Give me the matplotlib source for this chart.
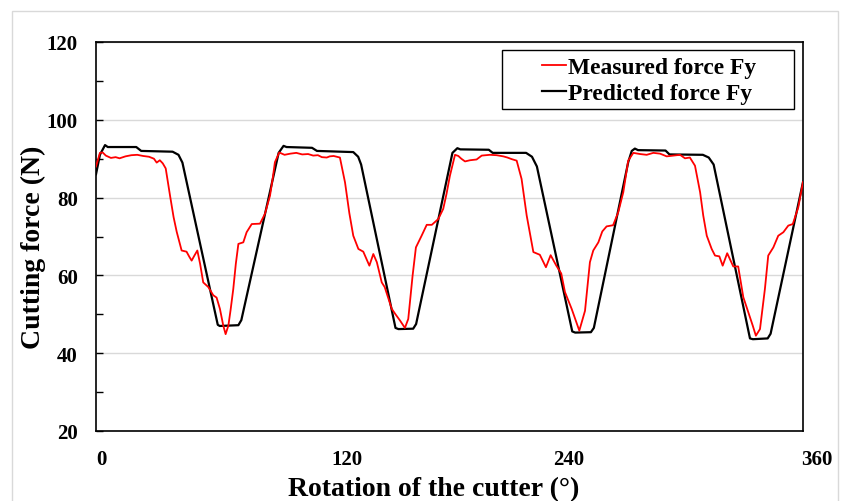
import matplotlib
matplotlib.use("Agg")
import matplotlib.pyplot as plt
from matplotlib.patches import Rectangle
from matplotlib.transforms import ScaledTranslation

plt.rcParams['font.family'] = ['Liberation Serif', 'DejaVu Serif']
plt.rcParams['font.weight'] = 'bold'

# measured force Fy
meas_deg = [0, 2, 3.4, 5, 7.6, 10, 12, 15, 18, 21, 24, 27, 29.5, 30.9, 32.5, 34, 35.5,
            37.7, 39.5, 41.1, 42.5, 43.6, 46.1, 47.5, 48.7, 50, 51.6, 53, 54.6, 57.2,
            59.7, 61.4, 63.1, 64.8, 66, 67.4, 68.5, 69.9, 71.2, 72.5, 75, 76.7, 79.3,
            83.5, 86, 88.6, 90, 91.1, 93.3, 96, 99, 102, 105, 108, 110.6, 113, 115,
            117.5, 119, 121, 124.2, 126.8, 129, 131, 133.6, 136.1, 139.2, 141.2, 143,
            145.5, 147, 150.6, 152.5, 154.8, 157.3, 159, 161.2, 162.9, 165.8, 168.4,
            171, 174.3, 176.8, 178.5, 180.2, 182.8, 184.5, 186, 187.9, 190.4, 193.8,
            196.4, 200.6, 204, 207.4, 209.5, 211.6, 214.2, 216.7, 219.3, 222.7, 226,
            229.1, 231.5, 234.4, 236.9, 238.8, 242.2, 244, 246.1, 249, 251.5, 253.2,
            255.8, 257.8, 260, 263.3, 265.9, 268.5, 271, 273.6, 277, 280.4, 283.8,
            287.2, 290.6, 294, 297.4, 299.9, 302.4, 305, 307.6, 309.2, 311, 313.5,
            315.2, 317.4, 319.1, 321.4, 324.5, 327, 329.6, 333, 334.4, 336, 338.1,
            340.6, 342.3, 344.9, 347.4, 350, 352.5, 354.8, 357.6, 360]
meas_fy = [88, 91.5, 91.6, 90.8, 90.2, 90.4, 90.1, 90.6, 90.9, 91.0, 90.7, 90.5, 90.0,
           89.0, 89.6, 88.8, 87.5, 80.5, 75, 71.2, 68.5, 66.4, 66.1, 64.8, 63.8, 65,
           66.4, 63, 58.2, 57, 54.9, 54.3, 51.4, 47.1, 44.9, 47.1, 51, 56.5, 63, 68.1,
           68.5, 71.1, 73.2, 73.3, 75.8, 80.5, 85, 89.1, 91.6, 91, 91.3, 91.5, 91.1,
           91.2, 90.8, 90.9, 90.4, 90.3, 90.6, 90.7, 90.3, 83.9, 76, 70.2, 66.8, 66.1,
           62.5, 65.5, 63.4, 58.2, 57, 51.4, 50, 48.4, 46.5, 48.8, 59.9, 67.2, 70.2,
           73, 73, 74.5, 77.1, 81, 85.6, 91, 90.7, 90, 89.3, 89.6, 89.8, 90.8, 91,
           90.9, 90.6, 90.3, 89.9, 89.5, 84.8, 75.4, 66, 65.3, 62.1, 65.2, 62.5, 60.5,
           55.7, 51.4, 48.8, 45.8, 50.9, 63.4, 66.4, 68.5, 71.3, 72.6, 72.9, 76.2,
           81.4, 89.5, 91.5, 91.2, 91, 91.5, 91.3, 90.6, 90.8, 91, 90.1, 90.3, 88.2,
           81.4, 75.4, 70.2, 66.8, 65.1, 64.9, 62.5, 65.7, 62.3, 62.3, 54.4, 49.2,
           47.1, 44.5, 46.2, 56.5, 65.1, 67.2, 70.2, 71.1, 72.8, 73.2, 77.5, 84]

# predicted force Fy
pred_deg = [0, 2, 4.6, 6, 20.5, 23, 39, 42, 44, 62, 63, 72.5, 74, 93, 95.5, 97, 110,
            112.5, 131, 133.5, 135, 152.5, 154, 161.5, 163, 181.5, 184, 185.5, 200, 202,
            219, 222, 224.5, 242.5, 244, 252, 253.5, 271, 272.8, 274.4, 276, 290, 292,
            309, 312, 314.5, 333, 334.5, 342, 343.5, 360]
pred_fy = [86, 91, 93.5, 93, 93, 92, 91.8, 91, 89, 47.3, 47, 47.2, 48.5, 91.5, 93.3, 93,
           92.8, 92, 91.7, 90.5, 88.5, 46.5, 46.2, 46.3, 47.5, 91.5, 92.7, 92.4, 92.3,
           91.5, 91.5, 90.5, 88, 45.6, 45.3, 45.4, 46.5, 89.1, 92, 92.6, 92.2, 92.1,
           91.1, 91, 90.3, 88.5, 43.8, 43.6, 43.8, 45, 84]

xticks = [0, 120, 240, 360]
yticks = [20, 40, 60, 80, 100, 120]

fig = plt.figure(figsize=(8.43, 5.02), dpi=100)
ax = fig.add_axes([96 / 843, 1 - 432 / 502, 707 / 843, 389 / 502])

ax.plot(meas_deg, meas_fy, color='#ff0000', lw=1.3, label='Measured force Fy', zorder=3)
ax.plot(pred_deg, pred_fy, color='black', lw=1.6, label='Predicted force Fy', zorder=2)

ax.set_xlim(0, 360)
ax.set_ylim(20, 120)
ax.set_xticks(xticks)
ax.set_yticks(yticks)
ax.set_yticks(range(30, 120, 20), minor=True)
ax.grid(axis='y', which='major', color='#d9d9d9', lw=1, zorder=0)
ax.set_axisbelow(True)

ax.tick_params(axis='x', length=0, pad=13, labelsize=15)
ax.tick_params(axis='y', which='both', direction='in', length=5, width=1, pad=13, labelsize=15)
for s in ax.spines.values():
    s.set_linewidth(1.2)

ax.set_xlabel('Rotation of the cutter (°)', fontsize=20, fontweight='bold')
ax.set_ylabel('Cutting force (N)', fontsize=20, fontweight='bold')
ax.xaxis.set_label_coords(0.4774, -0.115)
ax.yaxis.set_label_coords(-0.071, 0.476)

leg = ax.legend(loc='upper left', bbox_to_anchor=(0.614, 0.993), frameon=False,
                borderpad=0, handlelength=1.02, handletextpad=0.1, labelspacing=0.2,
                prop={'size': 16.9, 'weight': 'bold'})
ax.add_patch(Rectangle((0.574, 0.8278), 0.9873 - 0.574, 0.9794 - 0.8278,
                       transform=ax.transAxes, fill=False, edgecolor='black', lw=1, zorder=4))

# thin grey border of the figure
fig.add_artist(Rectangle((12 / 843, -0.1), 826 / 843, 1.1 - 12 / 502,
                         transform=fig.transFigure, fill=False, edgecolor='#d9d9d9', lw=1))

# x tick labels in the original sit a bit right of their ticks
fig.canvas.draw()
for lab, dx in zip(ax.get_xticklabels(), [5, 15, 1, 14]):
    lab.set_transform(lab.get_transform() + ScaledTranslation(dx / 100, 0, fig.dpi_scale_trans))

fig.savefig('out.png', dpi=100)
